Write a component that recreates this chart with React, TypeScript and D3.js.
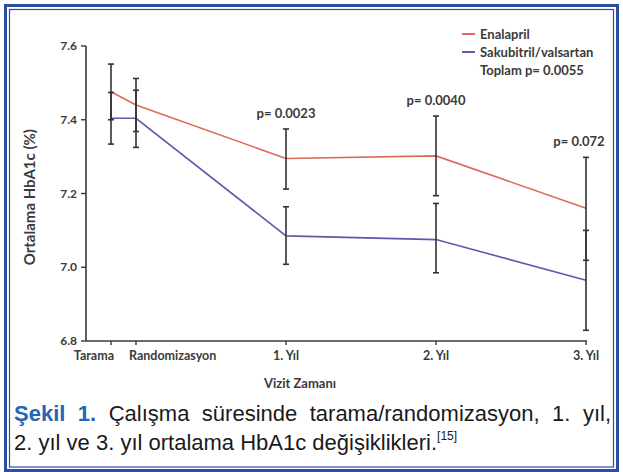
import * as d3 from 'd3'
import { useLayoutEffect, useRef, useState } from 'react'

// visits (months relative to randomisation)
const visits = ['Tarama', 'Randomizasyon', '1. Yıl', '2. Yıl', '3. Yıl']
const visitMonths = [-2, 0, 12, 24, 36]

const seriesNames = ['Enalapril', 'Sakubitril/valsartan']
const enalaprilMean = [7.476, 7.44, 7.295, 7.302, 7.16]
const enalaprilUpper = [7.551, 7.512, 7.375, 7.41, 7.298]
const enalaprilLower = [7.4, 7.368, 7.212, 7.194, 7.019]
const sakubitrilMean = [7.404, 7.404, 7.085, 7.075, 6.965]
const sakubitrilUpper = [7.474, 7.48, 7.164, 7.173, 7.1]
const sakubitrilLower = [7.334, 7.325, 7.008, 6.985, 6.829]

const pLabels = ['', '', 'p= 0.0023', 'p= 0.0040', 'p= 0.072']
const totalP = 'Toplam p= 0.0055'
const yTicks = [6.8, 7.0, 7.2, 7.4, 7.6]

const RED = '#dd6a57'
const BLUE = '#5c5cad'
const INK = '#3a3a3a'
const FRAME = '#2f4da0'
const chartFont = 'Lato, "Open Sans", sans-serif'
const captionFont = '"Liberation Sans", Arial, sans-serif'

const x = d3.scaleLinear().domain([-4, 36]).range([86, 586])
const y = d3.scaleLinear().domain([6.8, 7.6]).range([341, 46])

const line = d3
  .line<number>()
  .x((_, i) => x(visitMonths[i]))
  .y(d => y(d))

const series = [
  { mean: enalaprilMean, upper: enalaprilUpper, lower: enalaprilLower, color: RED },
  { mean: sakubitrilMean, upper: sakubitrilUpper, lower: sakubitrilLower, color: BLUE },
]

const caption1 = 'Çalışma süresinde tarama/randomizasyon, 1. yıl,'
const caption2 = '2. yıl ve 3. yıl ortalama HbA1c değişiklikleri.'

export default function App() {
  const lineRef = useRef<SVGTextElement>(null)
  const [wordSpacing, setWordSpacing] = useState(0)

  useLayoutEffect(() => {
    const el = lineRef.current
    if (!el) return
    const natural = el.getComputedTextLength()
    const spaces = ('Şekil 1. ' + caption1).split(' ').length - 1
    setWordSpacing((597 - natural) / spaces)
  }, [])

  return (
    <div style={{ position: 'absolute', left: 0, top: 0 }}>
      <svg width={623} height={472} style={{ display: 'block', background: '#fff' }}>
        <rect x={5.5} y={5.5} width={612} height={465} fill="none" stroke={FRAME} strokeWidth={3} />
        <rect x={9.5} y={9.5} width={604} height={457.5} fill="none" stroke={FRAME} strokeWidth={1.2} />

        {/* y axis */}
        <g fontFamily={chartFont} fontWeight={700} fontSize={12} fill={INK}>
          <line x1={86} x2={86} y1={y(7.6)} y2={y(6.8)} stroke={INK} strokeWidth={1.6} />
          {yTicks.map(t => (
            <g key={t}>
              <line x1={81} x2={86} y1={y(t)} y2={y(t)} stroke={INK} strokeWidth={1.4} />
              <text x={77} y={y(t) + 4} textAnchor="end">
                {t.toFixed(1)}
              </text>
            </g>
          ))}
          <text
            transform={`translate(35, ${y(7.19)}) rotate(-90)`}
            textAnchor="middle"
            fontSize={15}
          >
            Ortalama HbA1c (%)
          </text>
        </g>

        {/* x axis */}
        <g fontFamily={chartFont} fontWeight={700} fontSize={12.5} fill={INK}>
          <line x1={86} x2={x(36) + 1} y1={y(6.8)} y2={y(6.8)} stroke={INK} strokeWidth={1.6} />
          {visits.map((v, i) => {
            const px = x(visitMonths[i])
            const anchor = i === 0 ? 'end' : i === 1 ? 'start' : 'middle'
            const lx = i === 0 ? px + 3 : i === 1 ? px - 7 : px
            return (
              <g key={v}>
                <line x1={px} x2={px} y1={y(6.8)} y2={y(6.8) + 4} stroke={INK} strokeWidth={1.4} />
                <text x={lx} y={y(6.8) + 19} textAnchor={anchor}>
                  {v}
                </text>
              </g>
            )
          })}
          <text x={300} y={388} textAnchor="middle" fontSize={13}>
            Vizit Zamanı
          </text>
        </g>

        {/* lines */}
        {series.map(s => (
          <path key={s.color} d={line(s.mean) ?? ''} fill="none" stroke={s.color} strokeWidth={1.6} />
        ))}

        {/* error bars */}
        {series.map(s =>
          visitMonths.map((m, i) => {
            const px = x(m)
            return (
              <g key={s.color + i} stroke="#333" strokeWidth={1.6}>
                <line x1={px} x2={px} y1={y(s.upper[i])} y2={y(s.lower[i])} />
                <line x1={px - 3} x2={px + 3} y1={y(s.upper[i])} y2={y(s.upper[i])} />
                <line x1={px - 3} x2={px + 3} y1={y(s.lower[i])} y2={y(s.lower[i])} />
              </g>
            )
          })
        )}

        {/* p values */}
        <g fontFamily={chartFont} fontWeight={700} fontSize={13} fill={INK}>
          {pLabels.map((p, i) =>
            p ? (
              <text
                key={p}
                x={x(visitMonths[i]) - (i === 4 ? 7 : 0)}
                y={y(Math.max(enalaprilUpper[i], sakubitrilUpper[i])) - 11}
                textAnchor="middle"
              >
                {p}
              </text>
            ) : null
          )}
        </g>

        {/* legend */}
        <g fontFamily={chartFont} fontWeight={700} fontSize={13} fill={INK}>
          {seriesNames.map((name, i) => (
            <g key={name} transform={`translate(462, ${34 + i * 18})`}>
              <line x1={0} x2={13} y1={0} y2={0} stroke={series[i].color} strokeWidth={2} />
              <text x={18} y={4.5}>
                {name}
              </text>
            </g>
          ))}
          <text x={480} y={75}>
            {totalP}
          </text>
        </g>

        {/* caption */}
        <g fontFamily={captionFont} fontSize={22}>
          <text ref={lineRef} x={14} y={421} fill="#1a1a1a" style={{ wordSpacing }}>
            <tspan fill="#2466b3" fontWeight={700}>
              Şekil 1.
            </tspan>{' '}
            {caption1}
          </text>
          <text x={14} y={450} fill="#1a1a1a">
            {caption2}
            <tspan fontSize={12} dy={-10}>
              [15]
            </tspan>
          </text>
        </g>
      </svg>
    </div>
  )
}
